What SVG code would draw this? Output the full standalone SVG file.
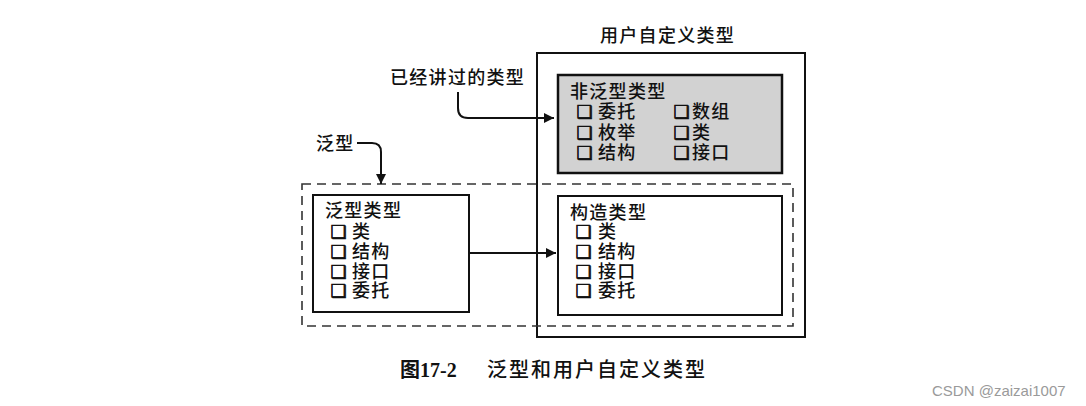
<svg xmlns="http://www.w3.org/2000/svg" width="1086" height="406" viewBox="0 0 1086 406">
<defs>
<style>
.t{font-family:"Noto Sans CJK SC","Liberation Sans",sans-serif;font-size:18px;letter-spacing:1.3px;fill:#111;font-weight:500}
.cb{font-family:"DejaVu Sans","Noto Sans CJK SC",sans-serif;font-size:18px;letter-spacing:0;fill:#111;stroke:#111;stroke-width:0.7}
.box{fill:#fff;stroke:#111;stroke-width:2}
.gray{fill:#d2d2d2;stroke:#111;stroke-width:2.5}
.dash{fill:none;stroke:#333;stroke-width:1.6;stroke-dasharray:9 6}
.conn{fill:none;stroke:#111;stroke-width:2}
.cap{font-family:"Liberation Serif","Noto Sans CJK SC",serif;font-size:20px;fill:#111;font-weight:bold}
.capc{font-family:"Noto Sans CJK SC",sans-serif;font-size:20px;fill:#111;font-weight:500;letter-spacing:2px}
.wm{font-family:"Liberation Sans",sans-serif;font-size:15px;fill:#9a9a9a}
</style>
<marker id="ah" viewBox="0 0 10 10" refX="10" refY="5" markerWidth="10" markerHeight="10" markerUnits="userSpaceOnUse" orient="auto">
<path d="M0,0 L10,5 L0,10 Z" fill="#111"/>
</marker>
</defs>
<rect width="1086" height="406" fill="#fff"/>

<g id="user-defined">
<rect class="box" x="537" y="53" width="268" height="284" fill="none"/>
<text class="t" x="600" y="42">用户自定义类型</text>
</g>

<g id="generic-region">
<rect class="dash" x="302" y="184" width="491" height="142"/>
</g>

<g id="nongeneric">
<rect class="gray" x="558" y="75" width="224" height="98"/>
<text class="t"><tspan x="570" y="98">非泛型类型</tspan><tspan class="cb" x="576.5" y="118">❑</tspan><tspan x="598" y="118">委托</tspan><tspan class="cb" x="673.5" y="118">❑</tspan><tspan x="692" y="118">数组</tspan><tspan class="cb" x="576.5" y="139">❑</tspan><tspan x="598" y="139">枚举</tspan><tspan class="cb" x="673.5" y="139">❑</tspan><tspan x="692" y="139">类</tspan><tspan class="cb" x="576.5" y="159">❑</tspan><tspan x="598" y="159">结构</tspan><tspan class="cb" x="673.5" y="159">❑</tspan><tspan x="692" y="159">接口</tspan></text>
</g>

<g id="generic-types">
<rect class="box" x="313" y="195" width="156" height="117"/>
<text class="t"><tspan x="325" y="217">泛型类型</tspan><tspan class="cb" x="330.5" y="238">❑</tspan><tspan x="352" y="238">类</tspan><tspan class="cb" x="330.5" y="258">❑</tspan><tspan x="352" y="258">结构</tspan><tspan class="cb" x="330.5" y="278">❑</tspan><tspan x="352" y="278">接口</tspan><tspan class="cb" x="330.5" y="297">❑</tspan><tspan x="352" y="297">委托</tspan></text>
</g>

<g id="constructed-types">
<rect class="box" x="558" y="196" width="224" height="119"/>
<text class="t"><tspan x="570" y="219">构造类型</tspan><tspan class="cb" x="575.5" y="238">❑</tspan><tspan x="598" y="238">类</tspan><tspan class="cb" x="575.5" y="258">❑</tspan><tspan x="598" y="258">结构</tspan><tspan class="cb" x="575.5" y="278">❑</tspan><tspan x="598" y="278">接口</tspan><tspan class="cb" x="575.5" y="297">❑</tspan><tspan x="598" y="297">委托</tspan></text>
</g>

<g id="label-discussed">
<text class="t" x="390" y="84">已经讲过的类型</text>
</g>
<g id="label-generic">
<text class="t" x="316" y="150">泛型</text>
</g>

<g id="connectors">
<path class="conn" d="M458,92 L458,108 Q458,118 468,118 L554,118" marker-end="url(#ah)"/>
<path class="conn" d="M357,143 L372,143 Q381,143 381,152 L381,184" marker-end="url(#ah)"/>
<path class="conn" d="M469,253 L556,253" marker-end="url(#ah)"/>
</g>

<g id="caption">
<text class="cap" x="400" y="377">图17-2</text>
<text class="capc" x="487" y="377">泛型和用户自定义类型</text>
</g>
<text class="wm" x="932" y="396">CSDN @zaizai1007</text>
</svg>
